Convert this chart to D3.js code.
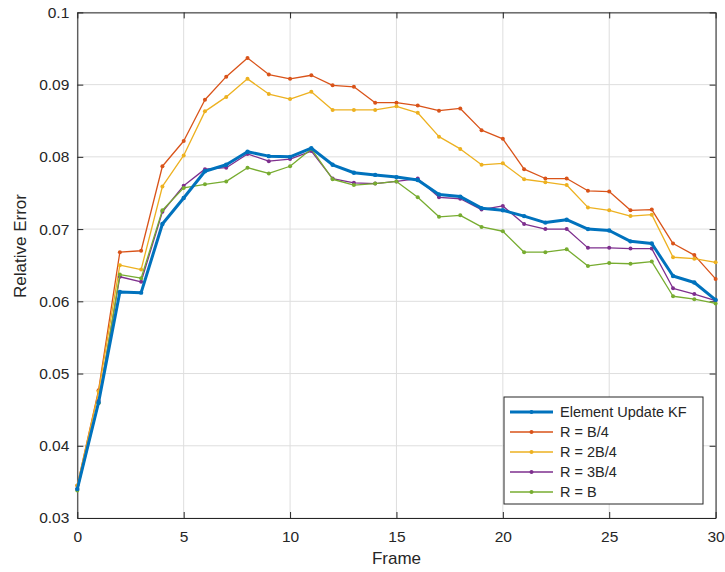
<!DOCTYPE html>
<html>
<head>
<meta charset="utf-8">
<script src="https://cdn.jsdelivr.net/npm/d3@7"></script>
<style>
body { margin: 0; background: #fff; }
text { font-family: "Liberation Sans", Arial, sans-serif; fill: #262626; }
</style>
</head>
<body>
<div id="canvas"></div>
<script>
var width = 725,
	height = 572;

var margin = {left: 77.3, right: 725 - 715.6, top: 12.4, bottom: 572 - 518};

var frames = [0, 1, 2, 3, 4, 5, 6, 7, 8, 9, 10, 11, 12, 13, 14, 15, 16, 17, 18, 19, 20, 21, 22, 23, 24, 25, 26, 27, 28, 29, 30];

var element_kf = [0.0340, 0.0460, 0.0613, 0.0612, 0.0707, 0.0743, 0.0780, 0.0789, 0.0807, 0.0801, 0.0800,
	0.0812, 0.0789, 0.0778, 0.0775, 0.0772, 0.0768, 0.0748, 0.0745, 0.0729, 0.0726,
	0.0718, 0.0709, 0.0713, 0.0700, 0.0698, 0.0683, 0.0680, 0.0635, 0.0626, 0.0602];
var r_b4 = [0.0345, 0.0477, 0.0668, 0.0670, 0.0787, 0.0822, 0.0879, 0.0911, 0.0937, 0.0914, 0.0908,
	0.0913, 0.0899, 0.0897, 0.0875, 0.0875, 0.0871, 0.0864, 0.0867, 0.0837, 0.0825,
	0.0783, 0.0770, 0.0770, 0.0753, 0.0752, 0.0726, 0.0727, 0.0680, 0.0664, 0.0631];
var r_2b4 = [0.0345, 0.0475, 0.0650, 0.0644, 0.0759, 0.0802, 0.0863, 0.0883, 0.0908, 0.0887, 0.0880,
	0.0890, 0.0865, 0.0865, 0.0865, 0.0870, 0.0861, 0.0828, 0.0811, 0.0789, 0.0791,
	0.0769, 0.0765, 0.0761, 0.0730, 0.0726, 0.0718, 0.0720, 0.0661, 0.0659, 0.0654];
var r_3b4 = [0.0340, 0.0462, 0.0634, 0.0627, 0.0724, 0.0760, 0.0783, 0.0785, 0.0804, 0.0794, 0.0797,
	0.0808, 0.0770, 0.0764, 0.0763, 0.0766, 0.0770, 0.0744, 0.0742, 0.0727, 0.0732,
	0.0707, 0.0700, 0.0700, 0.0674, 0.0674, 0.0673, 0.0673, 0.0618, 0.0610, 0.0601];
var r_b = [0.0338, 0.0459, 0.0637, 0.0632, 0.0726, 0.0757, 0.0762, 0.0766, 0.0785, 0.0777, 0.0787,
	0.0811, 0.0769, 0.0761, 0.0763, 0.0766, 0.0744, 0.0717, 0.0719, 0.0703, 0.0697,
	0.0668, 0.0668, 0.0672, 0.0649, 0.0653, 0.0652, 0.0655, 0.0607, 0.0603, 0.0597];

var series_names = ['Element Update KF', 'R = B/4', 'R = 2B/4', 'R = 3B/4', 'R = B'];
var series_values = [element_kf, r_b4, r_2b4, r_3b4, r_b];
var series_colors = ['#0072BD', '#D95319', '#EDB120', '#7E2F8E', '#77AC30'];

var x_ticks = [0, 5, 10, 15, 20, 25, 30];
var y_ticks = [0.03, 0.04, 0.05, 0.06, 0.07, 0.08, 0.09, 0.1];

var x = d3.scaleLinear()
	.domain([0, 30])
	.range([margin.left, width - margin.right]);
var y = d3.scaleLinear()
	.domain([0.03, 0.1])
	.range([height - margin.bottom, margin.top]);

var svg = d3.select('#canvas')
	.append('svg')
	.attr('width', width)
	.attr('height', height);

// grid
svg.append('g')
	.selectAll('line.gx')
	.data(x_ticks)
	.enter().append('line')
	.attr('x1', d => x(d)).attr('x2', d => x(d))
	.attr('y1', y(0.03)).attr('y2', y(0.1))
	.attr('stroke', '#dedede').attr('stroke-width', 1);
svg.append('g')
	.selectAll('line.gy')
	.data(y_ticks)
	.enter().append('line')
	.attr('x1', x(0)).attr('x2', x(30))
	.attr('y1', d => y(d)).attr('y2', d => y(d))
	.attr('stroke', '#dedede').attr('stroke-width', 1);

// axes (ticks inward, MATLAB style)
var fmt = d => d === 0.1 ? '0.1' : d3.format('.2f')(d);

svg.append('g')
	.attr('transform', `translate(0,${y(0.03)})`)
	.call(d3.axisBottom(x).tickValues(x_ticks).tickSizeInner(-6).tickSizeOuter(0).tickPadding(13))
	.call(g => g.selectAll('text').style('font-size', '15.5px').attr('fill', '#262626'));
svg.append('g')
	.attr('transform', `translate(${x(0)},0)`)
	.call(d3.axisLeft(y).tickValues(y_ticks).tickFormat(fmt).tickSizeInner(-6).tickSizeOuter(0).tickPadding(8))
	.call(g => g.selectAll('text').style('font-size', '15.5px').attr('fill', '#262626'));
// top and right box ticks
svg.append('g')
	.attr('transform', `translate(0,${y(0.1)})`)
	.call(d3.axisTop(x).tickValues(x_ticks).tickFormat('').tickSizeInner(-6).tickSizeOuter(0));
svg.append('g')
	.attr('transform', `translate(${x(30)},0)`)
	.call(d3.axisRight(y).tickValues(y_ticks).tickFormat('').tickSizeInner(-6).tickSizeOuter(0));
svg.selectAll('.domain, .tick line').attr('stroke', '#262626');

svg.append('text')
	.attr('x', (x(0) + x(30)) / 2)
	.attr('y', 564)
	.attr('text-anchor', 'middle')
	.style('font-size', '17px')
	.text('Frame');
svg.append('text')
	.attr('transform', 'translate(26,246) rotate(-90)')
	.attr('text-anchor', 'middle')
	.style('font-size', '17px')
	.text('Relative Error');

// lines, blue drawn last on top
var line = d3.line()
	.x((d, i) => x(frames[i]))
	.y(d => y(d));

var order = [1, 2, 3, 4, 0];
order.forEach(function(k) {
	var g = svg.append('g');
	g.append('path')
		.attr('d', line(series_values[k]))
		.attr('fill', 'none')
		.attr('stroke', series_colors[k])
		.attr('stroke-width', k === 0 ? 3 : 1.3)
		.attr('stroke-linejoin', 'round');
	g.selectAll('circle')
		.data(series_values[k])
		.enter().append('circle')
		.attr('cx', (d, i) => x(frames[i]))
		.attr('cy', d => y(d))
		.attr('r', k === 0 ? 2.2 : 2)
		.attr('fill', series_colors[k]);
});

// legend
var lx = 504, ly = 397, lw = 199, lh = 107;
svg.append('rect')
	.attr('x', lx).attr('y', ly)
	.attr('width', lw).attr('height', lh)
	.attr('fill', '#fff')
	.attr('stroke', '#262626')
	.attr('stroke-width', 1);
series_names.forEach(function(name, k) {
	var cy = ly + 15 + k * 20;
	svg.append('line')
		.attr('x1', lx + 6).attr('x2', lx + 49)
		.attr('y1', cy).attr('y2', cy)
		.attr('stroke', series_colors[k])
		.attr('stroke-width', k === 0 ? 3 : 1.3);
	svg.append('circle')
		.attr('cx', lx + 27.5).attr('cy', cy)
		.attr('r', 2)
		.attr('fill', series_colors[k]);
	svg.append('text')
		.attr('x', lx + 56)
		.attr('y', cy + 5)
		.style('font-size', '14.5px')
		.text(name);
});
</script>
</body>
</html>
